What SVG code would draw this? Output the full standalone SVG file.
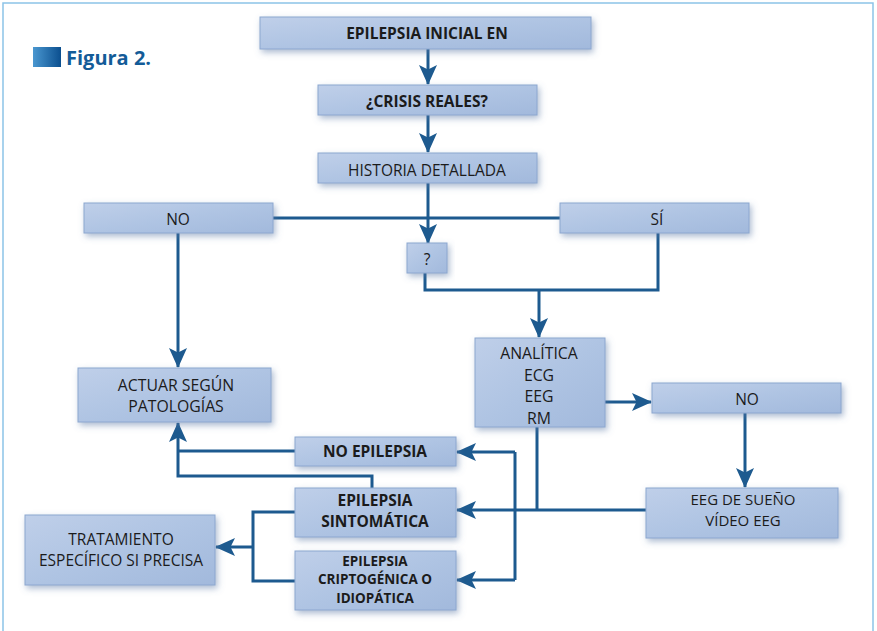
<svg xmlns="http://www.w3.org/2000/svg" width="877" height="631" viewBox="0 0 877 631">
  <defs>
    <linearGradient id="boxFill" x1="0" y1="0" x2="1" y2="1">
      <stop offset="0" stop-color="#bfcfe9"/>
      <stop offset="0.5" stop-color="#afc4e3"/>
      <stop offset="1" stop-color="#a2b9dc"/>
    </linearGradient>
    <linearGradient id="tagFill" x1="0" y1="0" x2="1" y2="0">
      <stop offset="0" stop-color="#4a97d0"/>
      <stop offset="1" stop-color="#0b4f8f"/>
    </linearGradient>
    <filter id="shadow" x="-20%" y="-30%" width="140%" height="170%">
      <feDropShadow dx="2" dy="3" stdDeviation="3" flood-color="#5a78a4" flood-opacity="0.5"/>
    </filter>
    <marker id="arrow" viewBox="0 0 20 20" refX="19" refY="10" markerWidth="20" markerHeight="20" markerUnits="userSpaceOnUse" orient="auto">
      <path d="M0,1 L20,10 L0,19 L4.5,10 Z" fill="#1d5a8f"/>
    </marker>
  </defs>
  <style>
    .box { fill: url(#boxFill); stroke: #8ca7d0; stroke-width: 1; filter: url(#shadow); }
    .t { font-family: "Open Sans", "Liberation Sans", sans-serif; font-size: 15.5px; fill: #1b1b1b; text-anchor: middle; }
    .m { font-size: 15px; }
    .l { font-size: 15.8px; }
    .b { font-weight: bold; }
    .s { font-size: 13.5px; }
    .link { fill: none; stroke: #1d5a8f; stroke-width: 3; }
    .arr { marker-end: url(#arrow); }
  </style>

  <!-- outer frame -->
  <path d="M3,631 V3 H873 V631" fill="none" stroke="#8cc3e8" stroke-width="1.5"/>

  <!-- figure title -->
  <g id="title">
    <rect x="33" y="47" width="28" height="20" fill="url(#tagFill)"/>
    <text x="66" y="65" font-family="'Open Sans', 'Liberation Sans', sans-serif" font-size="20" font-weight="bold" fill="#135b98">Figura 2.</text>
  </g>

  <!-- connectors -->
  <g id="connectors">
    <path class="link arr" d="M428,49 V84"/>
    <path class="link arr" d="M428,115 V152"/>
    <path class="link" d="M273,218 H560"/>
    <path class="link arr" d="M428,183 V243"/>
    <path class="link arr" d="M178,233 V367"/>
    <path class="link" d="M425,273 V290 H658 V233"/>
    <path class="link arr" d="M539,290 V337"/>
    <path class="link arr" d="M605,402 H651"/>
    <path class="link arr" d="M745,413 V487"/>
    <path class="link" d="M537,427 V510"/>
    <path class="link arr" d="M646,510 H457"/>
    <path class="link" d="M515,452 V580"/>
    <path class="link arr" d="M515,452 H457"/>
    <path class="link arr" d="M515,580 H457"/>
    <path class="link" d="M295,451 H178"/>
    <path class="link arr" d="M372,488 V476 H178 V423"/>
    <path class="link" d="M295,512 H253 V581 H295"/>
    <path class="link arr" d="M253,547 H216"/>
  </g>

  <!-- nodes -->
  <g id="n-inicial">
    <rect class="box" x="260" y="17" width="331" height="32"/>
    <text class="t b" x="427" y="39">EPILEPSIA INICIAL EN</text>
  </g>
  <g id="n-crisis">
    <rect class="box" x="318" y="85" width="219" height="30"/>
    <text class="t b" x="427" y="107">¿CRISIS REALES?</text>
  </g>
  <g id="n-historia">
    <rect class="box" x="318" y="153" width="219" height="30"/>
    <text class="t" x="427" y="176">HISTORIA DETALLADA</text>
  </g>
  <g id="n-no">
    <rect class="box" x="84" y="203" width="189" height="30"/>
    <text class="t" x="178" y="225">NO</text>
  </g>
  <g id="n-si">
    <rect class="box" x="560" y="203" width="189" height="30"/>
    <text class="t" x="657" y="225">SÍ</text>
  </g>
  <g id="n-duda">
    <rect class="box" x="407" y="243" width="40" height="30"/>
    <text class="t" x="427" y="265">?</text>
  </g>
  <g id="n-pruebas">
    <rect class="box" x="475" y="338" width="130" height="89"/>
    <text class="t l" x="539" y="359">ANALÍTICA</text>
    <text class="t l" x="539" y="380.5">ECG</text>
    <text class="t l" x="539" y="402">EEG</text>
    <text class="t l" x="539" y="423.5">RM</text>
  </g>
  <g id="n-no2">
    <rect class="box" x="652" y="383" width="189" height="30"/>
    <text class="t" x="747" y="405">NO</text>
  </g>
  <g id="n-eeg">
    <rect class="box" x="646" y="488" width="192" height="50"/>
    <text class="t m" x="743" y="505">EEG DE SUEÑO</text>
    <text class="t m" x="743" y="525.5">VÍDEO EEG</text>
  </g>
  <g id="n-actuar">
    <rect class="box" x="78" y="368" width="193" height="54"/>
    <text class="t l" x="176" y="390.5">ACTUAR SEGÚN</text>
    <text class="t l" x="176" y="412">PATOLOGÍAS</text>
  </g>
  <g id="n-noepi">
    <rect class="box" x="295" y="437" width="161" height="29"/>
    <text class="t b" x="375" y="457">NO EPILEPSIA</text>
  </g>
  <g id="n-sintomatica">
    <rect class="box" x="295" y="488" width="161" height="49"/>
    <text class="t b" x="375" y="506">EPILEPSIA</text>
    <text class="t b" x="375" y="527.2">SINTOMÁTICA</text>
  </g>
  <g id="n-cripto">
    <rect class="box" x="295" y="551" width="161" height="59"/>
    <text class="t b s" x="375" y="565.5">EPILEPSIA</text>
    <text class="t b s" x="375" y="584">CRIPTOGÉNICA O</text>
    <text class="t b s" x="375" y="602.5">IDIOPÁTICA</text>
  </g>
  <g id="n-tratamiento">
    <rect class="box" x="25" y="515" width="190" height="70"/>
    <text class="t" x="121" y="544.5">TRATAMIENTO</text>
    <text class="t" x="121" y="565.7">ESPECÍFICO SI PRECISA</text>
  </g>
</svg>
